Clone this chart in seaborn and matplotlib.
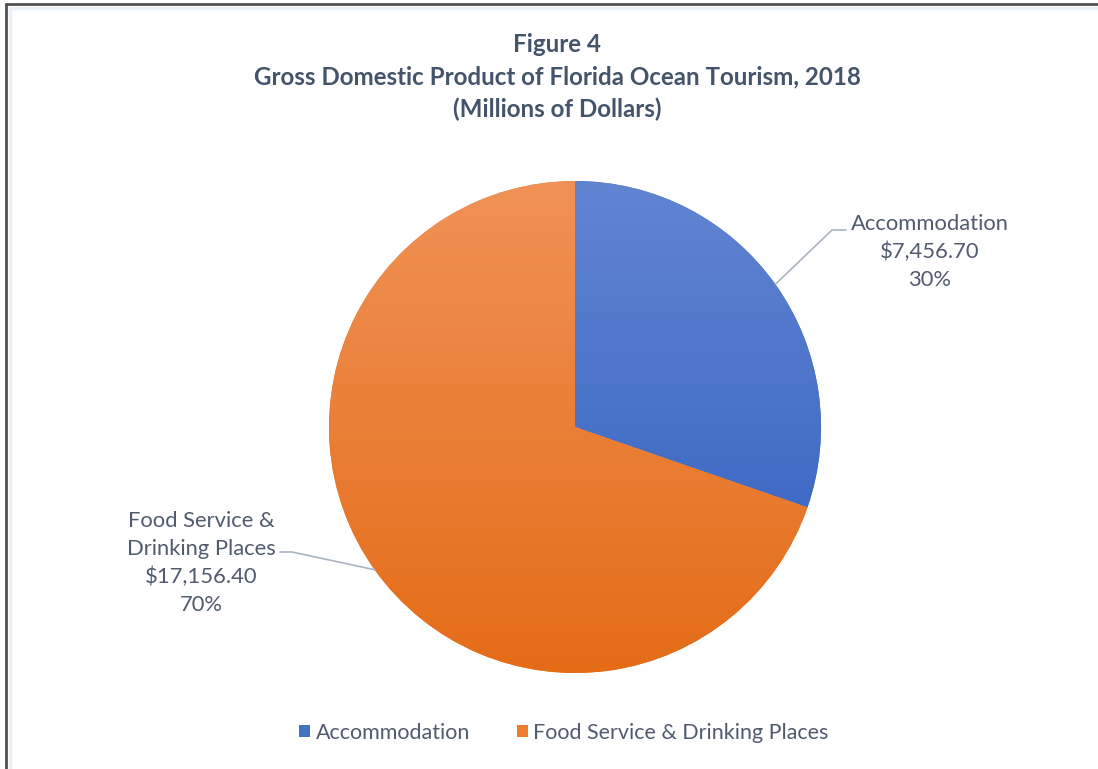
import numpy as np
import matplotlib
matplotlib.use("Agg")
import matplotlib.pyplot as plt
from matplotlib.colors import LinearSegmentedColormap
from matplotlib.lines import Line2D
from matplotlib.patches import Patch
import seaborn as sns

# Data
categories = ["Accommodation", "Food Service & Drinking Places"]
label_lines = ["Accommodation", "Food Service &\nDrinking Places"]
values = [7456.70, 17156.40]
percent_labels = ["30%", "70%"]
title_lines = ["Figure 4",
               "Gross Domestic Product of Florida Ocean Tourism, 2018",
               "(Millions of Dollars)"]

sns.set_theme(style="white")
plt.rcParams["font.family"] = ["Lato", "DejaVu Sans"]

base_colors = ["#4472C4", "#ED7D31"]
grad_top = ["#6285D2", "#F09257"]
grad_bottom = ["#2E5DBE", "#E46C17"]
text_color = "#44546A"
label_color = "#515B6E"

W, H = 1098, 769
fig = plt.figure(figsize=(W / 100, H / 100), dpi=100)
ax = fig.add_axes([0, 0, 1, 1])

cx, cy, r = 575, H - 427, 246
wedges, _ = ax.pie(values, colors=base_colors, startangle=90,
                   counterclock=False, center=(cx, cy), radius=r,
                   wedgeprops=dict(linewidth=0, edgecolor="none"))
ax.set_xlim(0, W)
ax.set_ylim(0, H)
ax.set_aspect("equal")
ax.axis("off")

# vertical gradient fill clipped to each wedge
grad = np.linspace(1, 0, 256).reshape(-1, 1)
for w, top, bot in zip(wedges, grad_top, grad_bottom):
    cmap = LinearSegmentedColormap.from_list("g", [bot, top])
    im = ax.imshow(grad, cmap=cmap, extent=(cx - r, cx + r, cy - r, cy + r),
                   aspect="auto", zorder=w.get_zorder() + 0.1, interpolation="bilinear")
    im.set_clip_path(w)
ax.set_xlim(0, W)
ax.set_ylim(0, H)

# leader lines anchored at wedge mid-angles
line_color = "#A9B4C2"
elbows = [((832, H - 230), (846, H - 230)), ((292, H - 552), (280, H - 552))]
for w, (e1, e2) in zip(wedges, elbows):
    ang = np.deg2rad((w.theta1 + w.theta2) / 2)
    ax0 = cx + r * np.cos(ang)
    ay0 = cy + r * np.sin(ang)
    ax.plot([ax0, e1[0], e2[0]], [ay0, e1[1], e2[1]], color=line_color, lw=1.2, zorder=5)

# data labels
label_pos = [(930, H - 252), (201, H - 563)]
for lab, v, p, (tx, ty) in zip(label_lines, values, percent_labels, label_pos):
    ax.text(tx, ty, f"{lab}\n${v:,.2f}\n{p}", ha="center", va="center",
            fontsize=15.8, color=label_color, linespacing=1.5)

# title
for i, t in enumerate(title_lines):
    fig.text(557 / W, 1 - (45 + 32 * i) / H, t, ha="center", va="center",
             fontsize=17.4, fontweight="bold", color=text_color)

# legend
handles = [Patch(facecolor=c, edgecolor="none") for c in base_colors]
leg = fig.legend(handles, categories, loc="center", bbox_to_anchor=(564 / W, 1 - 733 / H),
                 ncol=2, frameon=False, fontsize=15.5, handlelength=0.5, handleheight=0.5,
                 handletextpad=0.25, columnspacing=2.2)
for t in leg.get_texts():
    t.set_color(label_color)

# frame lines along the top and left edges
fig.add_artist(Line2D([6 / W, 6 / W], [0, 1 - 4 / H], color="#505050", lw=2))
fig.add_artist(Line2D([6 / W, 1], [1 - 4 / H, 1 - 4 / H], color="#505050", lw=2))
fig.add_artist(Line2D([10 / W, 10 / W], [0, 1 - 8 / H], color="#EAF0F5", lw=2.5))
fig.add_artist(Line2D([10 / W, 1], [1 - 8 / H, 1 - 8 / H], color="#EAF0F5", lw=2.5))

fig.savefig("out.png", dpi=100, facecolor="white")
